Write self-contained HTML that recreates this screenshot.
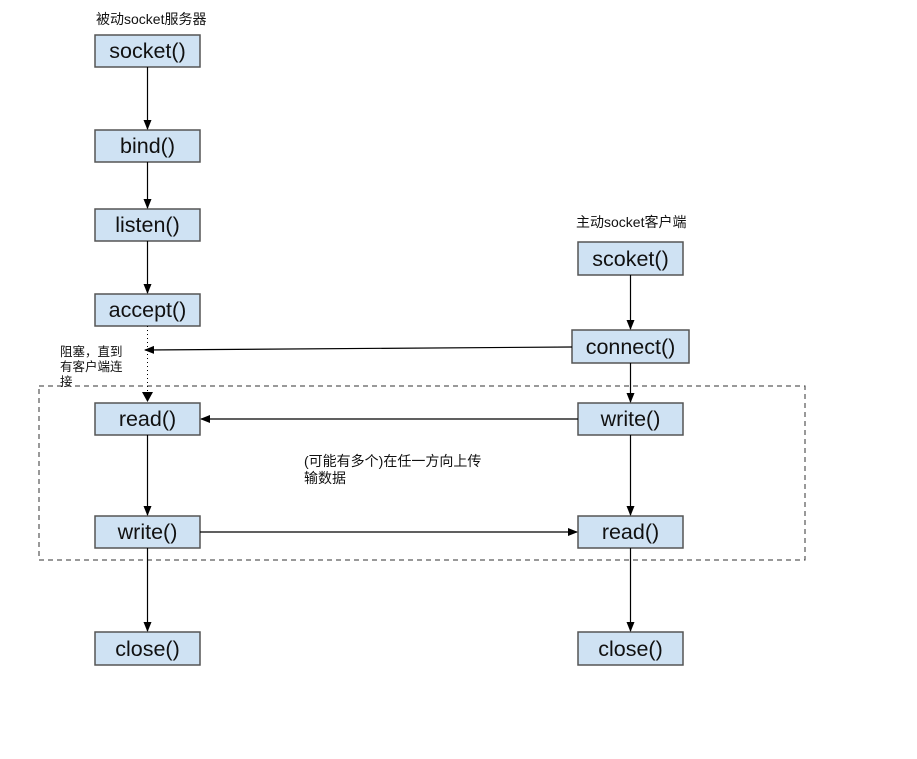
<!DOCTYPE html>
<html><head><meta charset="utf-8"><style>
body{margin:0;background:#fff;}
svg text{font-family:"Liberation Sans","Noto Sans CJK SC",sans-serif;}
</style></head><body>
<svg width="917" height="754" viewBox="0 0 917 754" xmlns="http://www.w3.org/2000/svg">
<defs><marker id="a" markerWidth="10" markerHeight="10" refX="9" refY="5" orient="auto" markerUnits="userSpaceOnUse"><path d="M0,1 L10,5 L0,9 z" fill="#000"/></marker></defs>
<rect x="39" y="386" width="766" height="174" fill="none" stroke="#333" stroke-dasharray="5,4"/>
<g fill="#cfe2f3" stroke="#555" stroke-width="1.5">
<rect x="95" y="35" width="105" height="32"/>
<rect x="95" y="130" width="105" height="32"/>
<rect x="95" y="209" width="105" height="32"/>
<rect x="95" y="294" width="105" height="32"/>
<rect x="95" y="403" width="105" height="32"/>
<rect x="95" y="516" width="105" height="32"/>
<rect x="95" y="632" width="105" height="33"/>
<rect x="578" y="242" width="105" height="33"/>
<rect x="572" y="330" width="117" height="33"/>
<rect x="578" y="403" width="105" height="32"/>
<rect x="578" y="516" width="105" height="32"/>
<rect x="578" y="632" width="105" height="33"/>
</g>
<g stroke="#000" stroke-width="1.2" marker-end="url(#a)">
<line x1="147.5" y1="67" x2="147.5" y2="129"/>
<line x1="147.5" y1="162" x2="147.5" y2="208"/>
<line x1="147.5" y1="241" x2="147.5" y2="293"/>
<line x1="147.5" y1="435" x2="147.5" y2="515"/>
<line x1="147.5" y1="548" x2="147.5" y2="631"/>
<line x1="630.5" y1="275" x2="630.5" y2="329"/>
<line x1="630.5" y1="363" x2="630.5" y2="402"/>
<line x1="630.5" y1="435" x2="630.5" y2="515"/>
<line x1="630.5" y1="548" x2="630.5" y2="631"/>
<line x1="572" y1="347" x2="145" y2="350"/>
<line x1="578" y1="419" x2="201" y2="419"/>
<line x1="200" y1="532" x2="577" y2="532"/>
</g>
<line x1="147.5" y1="326" x2="147.5" y2="393" stroke="#000" stroke-dasharray="1,3"/>
<path d="M142,392 L153,392 L147.5,402 z" fill="#000"/>
<g font-size="21.5" text-anchor="middle" fill="#111">
<text x="147.5" y="58">socket()</text>
<text x="147.5" y="153">bind()</text>
<text x="147.5" y="232">listen()</text>
<text x="147.5" y="317">accept()</text>
<text x="147.5" y="426">read()</text>
<text x="147.5" y="539">write()</text>
<text x="147.5" y="656">close()</text>
<text x="630.5" y="266">scoket()</text>
<text x="630.5" y="354">connect()</text>
<text x="630.5" y="426">write()</text>
<text x="630.5" y="539">read()</text>
<text x="630.5" y="656">close()</text>
</g>
<g font-size="14" fill="#111">
<text x="96" y="24">被动socket服务器</text>
<text x="576" y="227">主动socket客户端</text>
<text x="304" y="466">(可能有多个)在任一方向上传</text>
<text x="304" y="483">输数据</text>
</g>
<g font-size="12.5" fill="#111">
<text x="60" y="356">阻塞，直到</text>
<text x="60" y="371">有客户端连</text>
<text x="60" y="386">接</text>
</g>
</svg>
</body></html>
